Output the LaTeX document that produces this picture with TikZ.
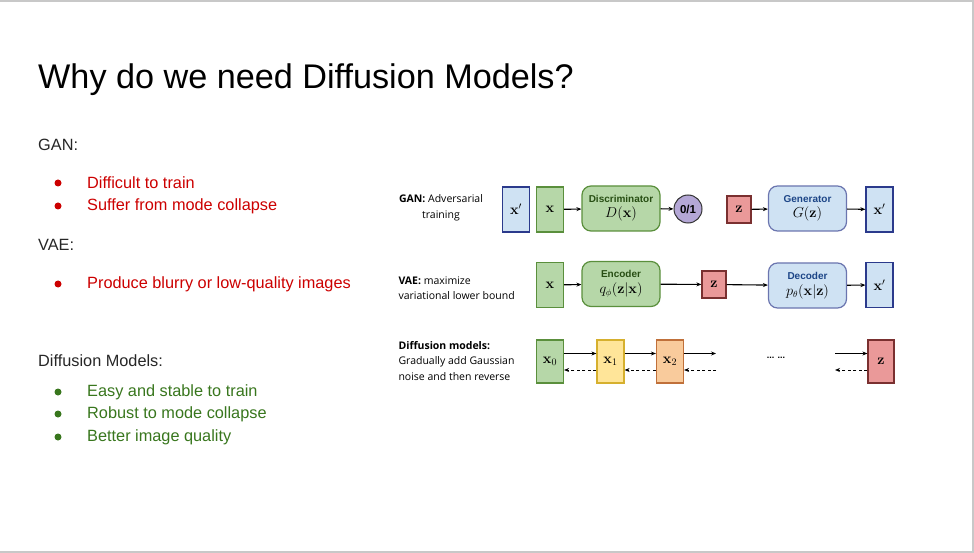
\documentclass[tikz,border=0pt]{standalone}
\usepackage[no-math]{fontspec}
\setmainfont{Liberation Sans}
\newfontfamily\labfont{Open Sans}
\usetikzlibrary{arrows.meta,positioning}

\definecolor{grnfill}{HTML}{B6D7A8}
\definecolor{grnline}{HTML}{5A8F3C}
\definecolor{grntext}{HTML}{274E13}
\definecolor{blufill}{HTML}{CFE2F3}
\definecolor{bluline}{HTML}{2B3A8C}
\definecolor{blutext}{HTML}{1C4587}
\definecolor{redfill}{HTML}{EA9999}
\definecolor{redline}{HTML}{7A3030}
\definecolor{yelfill}{HTML}{FFE599}
\definecolor{yelline}{HTML}{D6B02E}
\definecolor{orgfill}{HTML}{F9CB9C}
\definecolor{orgline}{HTML}{C0703A}
\definecolor{prpfill}{HTML}{B4A7D6}
\definecolor{badred}{HTML}{CC0000}
\definecolor{goodgrn}{HTML}{38761D}
\definecolor{frame}{HTML}{C8C8C8}

\tikzset{
  sq/.style={draw,line width=1.2pt,minimum width=27pt,minimum height=45pt,inner sep=0pt,
    font=\fontsize{14.5}{14.5}\selectfont},
  zsq/.style={sq,fill=redfill,draw=redline,minimum width=24pt,minimum height=27pt},
  net/.style={draw,line width=1.2pt,rounded corners=9pt,minimum width=78pt,minimum height=45pt,
    inner sep=0pt,align=center},
  lbl/.style={font=\labfont\fontsize{10.5}{15.5}\selectfont},
  body/.style={anchor=west,inner sep=0pt,font=\fontsize{16.3}{16.3}\selectfont},
  dot/.style={circle,inner sep=0pt,minimum size=7pt},
  fwd/.style={line width=1.1pt,-{Stealth[length=5pt,width=4pt]}},
  bwd/.style={line width=0.9pt,dash pattern=on 3pt off 2.5pt,-{Stealth[length=5pt,width=4pt]}},
}

\begin{document}
\begin{tikzpicture}[x=1pt,y=-1pt]
\useasboundingbox (0,0) rectangle (974,553);
\draw[frame,line width=2pt] (0,1) -- (973,1) -- (973,552) -- (0,552);

% slide text
\node[body,font=\fontsize{34.2}{34.2}\selectfont] (title) at (38,80) {Why do we need Diffusion Models?};

\node[body,text=black!85] (gan) at (38,145) {GAN:};
\node[body,text=black!85] (vae) at (38,245) {VAE:};
\node[body,text=black!85] (dm) at (38,361) {Diffusion Models:};

\foreach \t/\y in {Difficult to train/183,Suffer from mode collapse/206,Produce blurry or low-quality images/284} {
  \node[dot,fill=badred] at (58,\y) {};
  \node[body,text=badred] at (87,\y) {\t};
}
\foreach \t/\y in {Easy and stable to train/392,Robust to mode collapse/414,Better image quality/437} {
  \node[dot,fill=goodgrn] at (58,\y) {};
  \node[body,text=goodgrn] at (87,\y) {\t};
}

% GAN row
\node[lbl,align=center] (ganlbl) at (441,208) {\textbf{GAN:} Adversarial\\training};
\node[sq,fill=blufill,draw=bluline] (xp1) at (516,209.5) {$\mathbf{x}'$};
\node[sq,fill=grnfill,draw=grnline] (xa) at (550,209.5) {$\mathbf{x}$};
\node[net,fill=grnfill,draw=grnline] (disc) at (621,208.5)
  {\textbf{\fontsize{10}{11}\selectfont\textcolor{grntext}{Discriminator}}\\[3pt]{\fontsize{14.5}{14.5}\selectfont$D(\mathbf{x})$}};
\node[circle,draw=black!80,line width=1pt,fill=prpfill,minimum size=28pt,inner sep=0pt,
  font=\bfseries\fontsize{11.5}{11.5}\selectfont] (out) at (688,209) {0/1};
\node[zsq] (za) at (739,209.5) {$\mathbf{z}$};
\node[net,fill=blufill,draw=bluline!70] (gen) at (807.5,208.5)
  {\textbf{\fontsize{10}{11}\selectfont\textcolor{blutext}{Generator}}\\[3pt]{\fontsize{14.5}{14.5}\selectfont$G(\mathbf{z})$}};
\node[sq,fill=blufill,draw=bluline] (xp2) at (879.5,209.5) {$\mathbf{x}'$};
\draw[fwd] (xa) -- (disc);
\draw[fwd] (disc) -- (out);
\draw[fwd] (za) -- (gen);
\draw[fwd] (gen) -- (xp2);

% VAE row
\node[lbl,align=left,anchor=west] (vaelbl) at (395,288) {\textbf{VAE:} maximize\\variational lower bound};
\node[sq,fill=grnfill,draw=grnline] (xb) at (550,285) {$\mathbf{x}$};
\node[net,fill=grnfill,draw=grnline] (enc) at (621,284)
  {\textbf{\fontsize{10}{11}\selectfont\textcolor{grntext}{Encoder}}\\[4pt]{\fontsize{13.5}{13.5}\selectfont$q_\phi(\mathbf{z}|\mathbf{x})$}};
\node[zsq] (zb) at (714,284.5) {$\mathbf{z}$};
\node[net,fill=blufill,draw=bluline!70] (dec) at (807.5,285.5)
  {\textbf{\fontsize{10}{11}\selectfont\textcolor{blutext}{Decoder}}\\[4pt]{\fontsize{13.5}{13.5}\selectfont$p_\theta(\mathbf{x}|\mathbf{z})$}};
\node[sq,fill=blufill,draw=bluline] (xp3) at (879.5,285) {$\mathbf{x}'$};
\draw[fwd] (xb) -- (enc);
\draw[fwd] (enc) -- (zb);
\draw[fwd] (zb) -- (dec);
\draw[fwd] (dec) -- (xp3);

% Diffusion row
\node[lbl,align=left,anchor=west] (dmlbl) at (395,361) {\textbf{Diffusion models:}\\Gradually add Gaussian\\noise and then reverse};
\node[sq,fill=grnfill,draw=grnline,minimum height=43pt] (x0) at (550,361.5) {$\mathbf{x}_0$};
\node[sq,fill=yelfill,draw=yelline,minimum height=43pt] (x1) at (610.5,361.5) {$\mathbf{x}_1$};
\node[sq,fill=orgfill,draw=orgline,minimum height=43pt] (x2) at (670,361.5) {$\mathbf{x}_2$};
\node[font=\bfseries\fontsize{9}{9}\selectfont] (gap) at (776,358) {... ...};
\node[zsq,minimum width=26pt,minimum height=43pt] (zc) at (881,361.5) {$\mathbf{z}$};
\coordinate (x2out) at (716,361.5);
\coordinate (zin) at (835,361.5);
\draw[fwd] ([yshift=8pt]x0.east) -- ([yshift=8pt]x1.west);
\draw[fwd] ([yshift=8pt]x1.east) -- ([yshift=8pt]x2.west);
\draw[fwd] ([yshift=8pt]x2.east) -- ([yshift=8pt]x2out);
\draw[fwd] ([yshift=8pt]zin) -- ([yshift=8pt]zc.west);
\draw[bwd] ([yshift=-8.5pt]x1.west) -- ([yshift=-8.5pt]x0.east);
\draw[bwd] ([yshift=-8.5pt]x2.west) -- ([yshift=-8.5pt]x1.east);
\draw[bwd] ([yshift=-8.5pt]x2out) -- ([yshift=-8.5pt]x2.east);
\draw[bwd] ([yshift=-8.5pt]zc.west) -- ([yshift=-8.5pt]zin);
\end{tikzpicture}
\end{document}
